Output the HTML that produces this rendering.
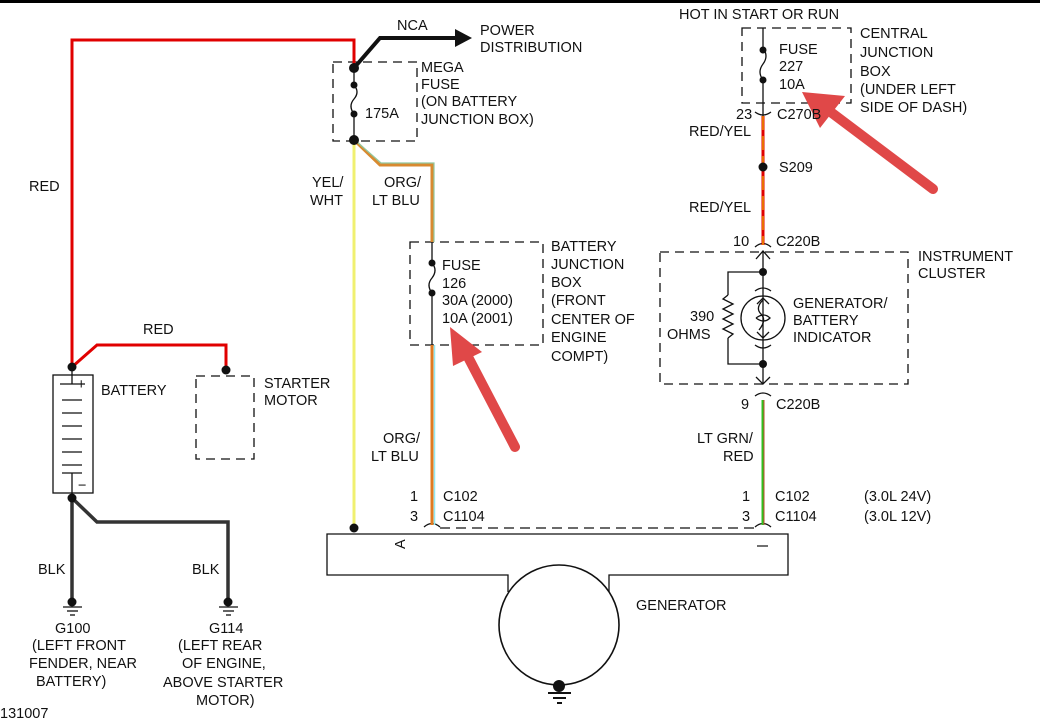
<!DOCTYPE html>
<html><head><meta charset="utf-8"><style>
html,body{margin:0;padding:0;background:#fff;}
svg{display:block;}
text{font-family:"Liberation Sans",sans-serif;font-size:14.5px;fill:#111;}
</style></head><body>
<svg width="1040" height="727" viewBox="0 0 1040 727" xmlns="http://www.w3.org/2000/svg">
<rect x="0" y="0" width="1040" height="3" fill="#000"/>
<g fill="none" stroke="#111" stroke-width="1.3">
 <!-- dashed boxes -->
 <rect x="333" y="62" width="84" height="79" stroke-dasharray="9,6"/>
 <rect x="410" y="242" width="133" height="103" stroke-dasharray="9,6"/>
 <rect x="742" y="28" width="109" height="75" stroke-dasharray="9,6"/>
 <rect x="660" y="252" width="248" height="132" stroke-dasharray="9,6"/>
 <rect x="196" y="376" width="58" height="83" stroke-dasharray="9,6"/>
 <line x1="440" y1="528" x2="755" y2="528" stroke-dasharray="10,6"/>
 <!-- fuse internals -->
 <line x1="354" y1="68" x2="354" y2="85"/><path d="M354,85 q6,7 0,14 q-6,7 0,15"/><line x1="354" y1="114" x2="354" y2="140"/>
 <line x1="432" y1="242" x2="432" y2="263"/><path d="M432,263 q6,7 0,15 q-6,7 0,15"/><line x1="432" y1="293" x2="432" y2="345"/>
 <line x1="763" y1="28" x2="763" y2="48"/><path d="M763,48 q6,8 0,16 q-6,8 0,16"/><line x1="763" y1="80" x2="763" y2="103"/>
 <!-- connectors -->
 <path d="M755,112 q8,6 16,0"/><line x1="763" y1="103" x2="763" y2="116"/>
 <path d="M755,247 q8,-7 16,0"/>
 <path d="M756,259 l7,-8 l7,8"/><line x1="763" y1="251" x2="763" y2="364"/>
 <path d="M756,377 l7,7 l7,-7"/><line x1="763" y1="364" x2="763" y2="384"/>
 <path d="M755,396 q8,-6 16,0"/>
 <path d="M424,527 q8,-7 16,0"/><path d="M755,527 q8,-7 16,0"/>
 <!-- instrument cluster -->
 <polyline points="763,272 728,272 728,295"/>
 <path d="M728,295 l-5,4 l10,5 l-10,5 l10,5 l-10,5 l10,5 l-10,5 l10,5 l-5,4"/>
 <polyline points="728,338 728,364 763,364"/>
 <circle cx="763" cy="318" r="22"/>
 <path d="M755,291 q8,-6 16,0"/><path d="M755,345 q8,6 16,0"/>
 <path d="M757,304 l6,-6 l6,6 M757,332 l6,6 l6,-6"/>
 <path d="M763,300 q-8,8 -2,14 q6,6 -2,16 M756,318 q8,-6 14,0 q-6,6 -14,0"/>
 <!-- battery -->
 <rect x="53" y="375" width="40" height="118"/>
 <line x1="72" y1="367" x2="72" y2="384"/>
 <line x1="60" y1="384" x2="85" y2="384"/>
 <line x1="62" y1="400" x2="82" y2="400"/><line x1="62" y1="413" x2="82" y2="413"/>
 <line x1="62" y1="426" x2="82" y2="426"/><line x1="62" y1="439" x2="82" y2="439"/>
 <line x1="62" y1="452" x2="82" y2="452"/><line x1="62" y1="465" x2="82" y2="465"/>
 <line x1="62" y1="473" x2="82" y2="473"/><line x1="72" y1="473" x2="72" y2="498"/>
 <!-- generator -->
 <path d="M508,592 L508,575 L327,575 L327,534 L788,534 L788,575 L609,575 L609,592"/>
 <circle cx="559" cy="625" r="60" stroke-width="1.6"/>
 <!-- grounds -->
 <line x1="63" y1="607" x2="82" y2="607"/><line x1="67" y1="611" x2="78" y2="611"/><line x1="70" y1="615" x2="75" y2="615"/>
 <line x1="219" y1="607" x2="238" y2="607"/><line x1="223" y1="611" x2="234" y2="611"/><line x1="226" y1="615" x2="231" y2="615"/>
 <line x1="548" y1="693" x2="571" y2="693" stroke-width="2"/><line x1="553" y1="698" x2="566" y2="698" stroke-width="2"/><line x1="557" y1="703" x2="562" y2="703" stroke-width="2"/>
</g>
<!-- wires -->
<g fill="none" stroke-linejoin="miter">
 <polyline points="72,367 72,40 354,40 354,68" stroke="#e00000" stroke-width="3"/>
 <polyline points="72,367 97,345 226,345 226,370" stroke="#e00000" stroke-width="3"/>
 <polyline points="354,68 380,38 458,38" stroke="#111" stroke-width="4"/>
 <polyline points="72,498 72,603" stroke="#333" stroke-width="3.5"/>
 <polyline points="72,498 97,522 228,522 228,603" stroke="#333" stroke-width="3.5"/>
 <line x1="354" y1="140" x2="354" y2="528" stroke="#f0f070" stroke-width="3"/>
 <polyline points="354,140 380,165 432,165 432,242" stroke="#d88a30" stroke-width="3"/>
 <polyline points="356,141 381,163 434,163 434,242" stroke="#90c8a0" stroke-width="1.2"/>
 <line x1="432" y1="345" x2="432" y2="525" stroke="#e07a20" stroke-width="3"/>
 <line x1="434.5" y1="345" x2="434.5" y2="525" stroke="#8fe8f0" stroke-width="1.5"/>
 <line x1="763" y1="116" x2="763" y2="245" stroke="#e00000" stroke-width="3"/>
 <line x1="763" y1="116" x2="763" y2="245" stroke="#f5e000" stroke-width="1" stroke-dasharray="14,6"/>
 <line x1="763" y1="400" x2="763" y2="525" stroke="#30c020" stroke-width="3"/>
 <line x1="764" y1="400" x2="764" y2="525" stroke="#e03030" stroke-width="0.8"/>
</g>
<polygon points="455,29 472,38 455,47" fill="#111"/>
<!-- dots -->
<g fill="#111">
 <circle cx="354" cy="68" r="5"/><circle cx="354" cy="85" r="3.5"/><circle cx="354" cy="114" r="3.5"/><circle cx="354" cy="140" r="5"/>
 <circle cx="432" cy="263" r="3.5"/><circle cx="432" cy="293" r="3.5"/>
 <circle cx="763" cy="50" r="3.5"/><circle cx="763" cy="80" r="3.5"/>
 <circle cx="763" cy="167" r="4.5"/><circle cx="763" cy="272" r="4"/><circle cx="763" cy="364" r="4"/>
 <circle cx="72" cy="367" r="4.5"/><circle cx="72" cy="498" r="4.5"/><circle cx="226" cy="370" r="4.5"/>
 <circle cx="72" cy="602" r="4.5"/><circle cx="228" cy="602" r="4.5"/>
 <circle cx="354" cy="528" r="4.5"/><circle cx="559" cy="686" r="6"/>
</g>
<!-- red annotation arrows -->
<g fill="#e04848" stroke="none">
 <line x1="515" y1="447" x2="467" y2="355" stroke="#e04848" stroke-width="10" stroke-linecap="round"/>
 <polygon points="450,327 482,352 453,366"/>
 <line x1="933" y1="189" x2="832" y2="113" stroke="#e04848" stroke-width="10" stroke-linecap="round"/>
 <polygon points="802,92 845,96 820,128"/>
</g>
<!-- text -->
<text x="397" y="30">NCA</text>
<text x="480" y="35">POWER</text><text x="480" y="52">DISTRIBUTION</text>
<text x="421" y="72">MEGA</text><text x="421" y="89">FUSE</text><text x="421" y="106">(ON BATTERY</text><text x="421" y="124">JUNCTION BOX)</text>
<text x="365" y="118">175A</text>
<text x="29" y="191">RED</text>
<text x="143" y="334">RED</text>
<text x="312" y="187">YEL/</text><text x="310" y="205">WHT</text>
<text x="384" y="187">ORG/</text><text x="372" y="205">LT BLU</text>
<text x="442" y="270">FUSE</text><text x="442" y="288">126</text><text x="442" y="305">30A  (2000)</text><text x="442" y="323">10A  (2001)</text>
<text x="551" y="251">BATTERY</text><text x="551" y="269">JUNCTION</text><text x="551" y="287">BOX</text><text x="551" y="305">(FRONT</text><text x="551" y="324">CENTER OF</text><text x="551" y="342">ENGINE</text><text x="551" y="361">COMPT)</text>
<text x="679" y="19">HOT IN START OR RUN</text>
<text x="779" y="54">FUSE</text><text x="779" y="71">227</text><text x="779" y="89">10A</text>
<text x="860" y="38">CENTRAL</text><text x="860" y="57">JUNCTION</text><text x="860" y="76">BOX</text><text x="860" y="94">(UNDER LEFT</text><text x="860" y="112">SIDE OF DASH)</text>
<text x="736" y="119">23</text><text x="777" y="119">C270B</text>
<text x="689" y="136">RED/YEL</text>
<text x="779" y="172">S209</text>
<text x="689" y="212">RED/YEL</text>
<text x="733" y="246">10</text><text x="776" y="246">C220B</text>
<text x="918" y="261">INSTRUMENT</text><text x="918" y="278">CLUSTER</text>
<text x="793" y="308">GENERATOR/</text><text x="793" y="325">BATTERY</text><text x="793" y="342">INDICATOR</text>
<text x="690" y="321">390</text><text x="667" y="339">OHMS</text>
<text x="741" y="409">9</text><text x="776" y="409">C220B</text>
<text x="697" y="443">LT GRN/</text><text x="723" y="461">RED</text>
<text x="383" y="443">ORG/</text><text x="371" y="461">LT BLU</text>
<text x="410" y="501">1</text><text x="410" y="521">3</text><text x="443" y="501">C102</text><text x="443" y="521">C1104</text>
<text x="742" y="501">1</text><text x="742" y="521">3</text><text x="775" y="501">C102</text><text x="775" y="521">C1104</text>
<text x="864" y="501">(3.0L 24V)</text><text x="864" y="521">(3.0L 12V)</text>
<text x="101" y="395">BATTERY</text>
<text x="77" y="389" font-size="12">+</text><text x="78" y="490" font-size="12">−</text>
<text x="264" y="388">STARTER</text><text x="264" y="405">MOTOR</text>
<text x="38" y="574">BLK</text><text x="192" y="574">BLK</text>
<text x="55" y="633">G100</text><text x="32" y="650">(LEFT FRONT</text><text x="29" y="668">FENDER, NEAR</text><text x="36" y="686">BATTERY)</text>
<text x="209" y="633">G114</text><text x="178" y="650">(LEFT REAR</text><text x="182" y="668">OF ENGINE,</text><text x="163" y="687">ABOVE STARTER</text><text x="196" y="705">MOTOR)</text>
<text x="0" y="718">131007</text>
<text x="636" y="610">GENERATOR</text>
<text x="405" y="549" font-size="12" transform="rotate(-90 405 549)">A</text>
<line x1="757" y1="546" x2="768" y2="546" stroke="#111" stroke-width="1.2"/>
</svg>
</body></html>
